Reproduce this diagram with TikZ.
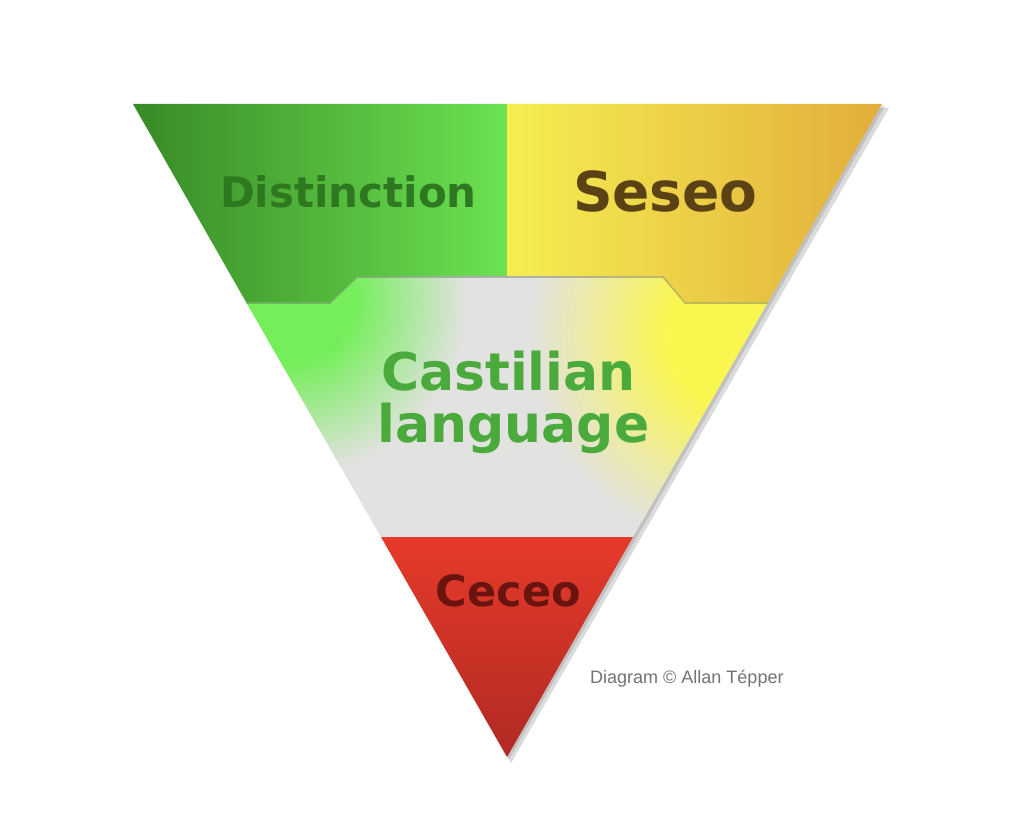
\documentclass[tikz,border=0pt]{standalone}
\usepackage{fontspec}
\setmainfont{Liberation Sans}
\newfontfamily\labelfont{DejaVu Sans}
\definecolor{leaf_dark}		{RGB}{56,138,38}
\definecolor{leaf_light}	{RGB}{108,226,82}
\definecolor{leaf_glow}		{RGB}{118,238,92}
\definecolor{lemon}			{RGB}{246,238,82}
\definecolor{lemon_glow}	{RGB}{250,246,80}
\definecolor{amber}			{RGB}{226,174,58}
\definecolor{mist}			{RGB}{226,226,224}
\definecolor{tomato}		{RGB}{230,58,42}
\definecolor{brick}			{RGB}{176,42,36}
\definecolor{ink_green}		{RGB}{46,120,32}
\definecolor{ink_brown}		{RGB}{90,66,20}
\definecolor{ink_mid}		{RGB}{74,171,60}
\definecolor{ink_red}		{RGB}{106,20,16}
\newcommand{\heavy}[1]{ \labelfont\bfseries\fontsize{#1}{#1}\selectfont }
\pgfdeclareradialshading{greenglow}{\pgfpoint{0bp}{0bp}}{color(0bp)=(leaf_glow); color(9bp)=(leaf_glow); color(25bp)=(mist); color(50bp)=(mist)}
\pgfdeclareradialshading{yellowglow}{\pgfpoint{0bp}{0bp}}{color(0bp)=(lemon_glow); color(9bp)=(lemon_glow); color(25bp)=(mist); color(50bp)=(mist)}

\begin{document}
\begin{tikzpicture}[x=1pt, y=-1pt,
		labelG/.style   = {inner sep = 0,
			anchor = base,
			text = ink_green,
			font = \heavy{42}},
		labelY/.style   = {inner sep = 0,
			anchor = base,
			text = ink_brown,
			font = \heavy{55}},
		labelM/.style   = {inner sep = 0,
			anchor = base,
			text = ink_mid,
			font = \heavy{52}},
		labelR/.style   = {inner sep = 0,
			anchor = base,
			text = ink_red,
			font = \heavy{43}},
		lip/.style      = {black!60,
			opacity = 0.4,
			line width = 1.6pt}]
		
		\useasboundingbox[fill=white] (0,0) rectangle (1024,832);
		
		% soft shadow of the whole triangle
		\fill[black, opacity=0.14] (138,108) -- (889,108) -- (511,763) -- cycle;
		\fill[black, opacity=0.12] (135,106) -- (885,106) -- (509,759) -- cycle;
		
		% middle band
		\begin{scope}
			\clip (246,302) -- (330,302) -- (357,276) -- (663,276) -- (685,302) -- (768,302)
			-- (633,537) -- (381,537) -- cycle;
			\fill[mist] (240,270) rectangle (780,540);
			\shade[shading=greenglow] (292,300) circle (175);
			\shade[shading=yellowglow] (745,335) circle (215);
		\end{scope}
		
		% top left and top right blocks
		\shade[left color=leaf_dark, right color=leaf_light]
		(133,104) -- (507,104) -- (507,276) -- (357,276) -- (330,302) -- (246,302) -- cycle;
		\shade[left color=lemon, right color=amber]
		(507,104) -- (882,104) -- (768,302) -- (685,302) -- (663,276) -- (507,276) -- cycle;
		\draw[lip] (246,303) -- (330,303) -- (357,277) -- (663,277) -- (685,303) -- (768,303);
		
		% tip
		\shade[top color=tomato, bottom color=brick]
		(381,537) -- (633,537) -- (507,757) -- cycle;
		
		\node[labelG] (dist) at (347,207) {Distinction};
		\node[labelY] (ses)  at (664,211) {Seseo};
		\node[labelM] (cast) at (507,390) {Castilian};
		\node[labelM] (lang) at (512,442) {language};
		\node[labelR] (cec)  at (507,606) {Ceceo};
		
		\node[inner sep=0, anchor=base west, text=black!55, font=\fontsize{18}{18}\selectfont]
		(credit) at (590,683) {Diagram © Allan Tépper};
		
	\end{tikzpicture}
\end{document}
